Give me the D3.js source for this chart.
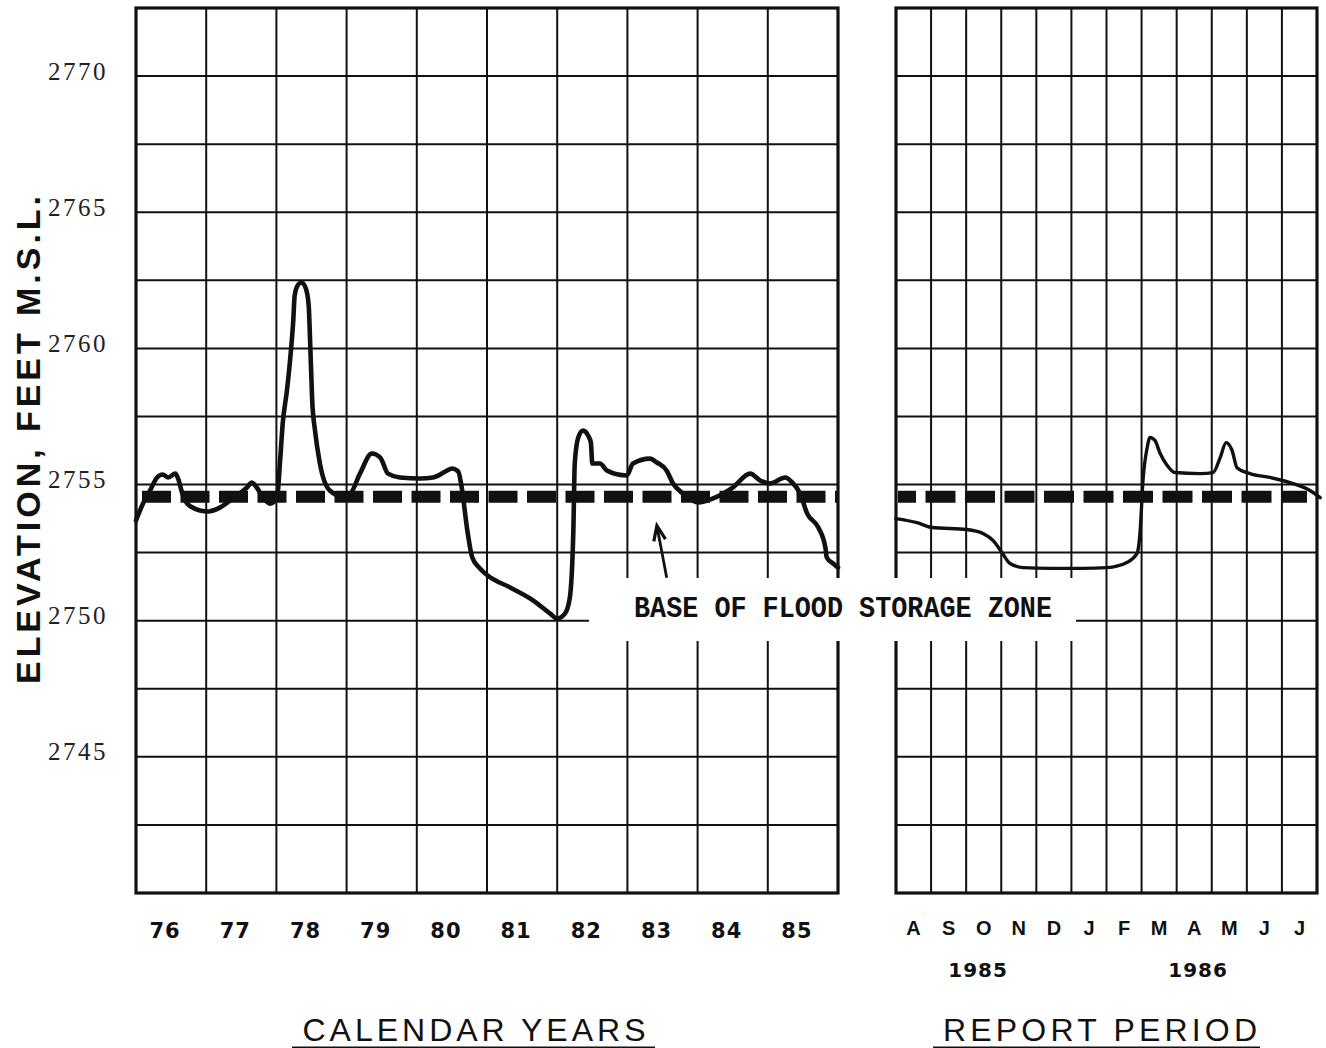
<!DOCTYPE html>
<html>
<head>
<meta charset="utf-8">
<script src="https://cdn.jsdelivr.net/npm/d3@7/dist/d3.min.js"></script>
<style>
  body { margin: 0; background: #fff; }
  svg { display: block; }
</style>
</head>
<body>
<svg id="chart" width="1326" height="1048"></svg>
<script>
// ---- data ----
const yearLabels = ["76", "77", "78", "79", "80", "81", "82", "83", "84", "85"];
const monthLabels = ["A", "S", "O", "N", "D", "J", "F", "M", "A", "M", "J", "J"];
const reportYears = ["1985", "1986"];
const reportYearAt = [2.34, 8.61];           // month index under which each year label sits
const elevTicks = [2745, 2750, 2755, 2760, 2765, 2770];
const floodBase = 2754.55;                   // base of flood storage zone, ft

// calendar-year history (decimal year, elevation ft)
const histYear = [1976.00, 1976.10, 1976.20, 1976.30, 1976.38, 1976.46, 1976.56, 1976.60, 1976.66, 1976.73,
  1976.91, 1977.03, 1977.20, 1977.38, 1977.58, 1977.65, 1977.72, 1977.81, 1977.91, 1978.01,
  1978.05, 1978.09, 1978.15, 1978.19, 1978.24, 1978.26, 1978.31, 1978.36, 1978.42, 1978.46,
  1978.48, 1978.51, 1978.55, 1978.62, 1978.76, 1978.91, 1979.05, 1979.19, 1979.36, 1979.48,
  1979.59, 1979.76, 1980.05, 1980.23, 1980.43, 1980.50, 1980.59, 1980.64, 1980.72, 1980.79,
  1980.90, 1981.01, 1981.33, 1981.66, 1981.90, 1982.00, 1982.11, 1982.18, 1982.23, 1982.25,
  1982.30, 1982.37, 1982.44, 1982.48, 1982.50, 1982.61, 1982.71, 1982.99, 1983.08, 1983.32,
  1983.42, 1983.56, 1983.65, 1983.79, 1984.01, 1984.22, 1984.50, 1984.75, 1984.89, 1985.03,
  1985.25, 1985.35, 1985.46, 1985.56, 1985.72, 1985.82, 1985.84, 1985.93, 1986.00];
const histElev = [2753.68, 2754.30, 2754.78, 2755.26, 2755.37, 2755.26, 2755.40, 2755.22, 2754.67, 2754.30,
  2754.05, 2754.01, 2754.16, 2754.49, 2754.89, 2755.07, 2754.89, 2754.52, 2754.30, 2754.52,
  2755.77, 2757.24, 2758.45, 2759.44, 2761.02, 2761.94, 2762.34, 2762.42, 2762.20, 2761.57,
  2760.29, 2758.08, 2756.98, 2755.77, 2754.78, 2754.60, 2754.67, 2755.40, 2756.14, 2755.99,
  2755.40, 2755.26, 2755.22, 2755.26, 2755.51, 2755.59, 2755.48, 2754.89, 2753.31, 2752.32,
  2751.92, 2751.66, 2751.22, 2750.74, 2750.26, 2750.08, 2750.26, 2750.85, 2753.31, 2755.77,
  2756.73, 2756.98, 2756.80, 2756.54, 2755.77, 2755.77, 2755.51, 2755.33, 2755.77, 2755.95,
  2755.81, 2755.51, 2755.04, 2754.67, 2754.34, 2754.49, 2754.89, 2755.40, 2755.15, 2755.04,
  2755.26, 2755.07, 2754.67, 2753.94, 2753.42, 2752.69, 2752.32, 2752.10, 2751.95];

// report period, Aug 1985 - Jul 1986 (month index from 1 Aug 1985, elevation ft)
const rptMonth = [0.00, 0.60, 1.03, 2.02, 2.48, 2.77, 3.02, 3.25, 3.62, 4.39, 5.33, 6.01, 6.58, 6.87, 6.96,
  7.04, 7.16, 7.24, 7.38, 7.53, 7.73, 7.95, 8.67, 9.04, 9.24, 9.41, 9.58, 9.72, 10.09, 10.66,
  11.23, 11.80, 12.09];
const rptElev = [2753.75, 2753.60, 2753.42, 2753.35, 2753.20, 2752.94, 2752.50, 2752.10, 2751.95, 2751.92,
  2751.92, 2751.95, 2752.14, 2752.47, 2753.31, 2755.15, 2756.36, 2756.73, 2756.62, 2756.14,
  2755.70, 2755.44, 2755.40, 2755.44, 2755.99, 2756.54, 2756.25, 2755.62, 2755.40, 2755.26,
  2755.07, 2754.78, 2754.52];

// ---- layout ----
const svg = d3.select("#chart");
const INK = "#111";
const plotTop = 8, plotBottom = 893;
const left1 = 136, right1 = 838, left2 = 896, right2 = 1317;

const y = d3.scaleLinear().domain([2740, 2772.5]).range([plotBottom, plotTop]);
const xHist = d3.scaleLinear().domain([1976, 1986]).range([left1, right1]);
const xRpt = d3.scaleLinear().domain([0, 12]).range([left2, right2]);

const gridLevels = d3.range(2740, 2772.5 + 0.01, 2.5);

// grid for one panel
function drawGrid(g, xs, xTicks, x0, x1) {
  g.selectAll("line.h").data(gridLevels.slice(1, -1)).join("line")
    .attr("class", "h")
    .attr("x1", x0).attr("x2", x1)
    .attr("y1", d => y(d)).attr("y2", d => y(d))
    .attr("stroke", INK).attr("stroke-width", 2);
  g.selectAll("line.v").data(xTicks.slice(1, -1)).join("line")
    .attr("class", "v")
    .attr("x1", d => xs(d)).attr("x2", d => xs(d))
    .attr("y1", plotTop).attr("y2", plotBottom)
    .attr("stroke", INK).attr("stroke-width", 2);
  g.append("rect")
    .attr("x", x0).attr("y", plotTop)
    .attr("width", x1 - x0).attr("height", plotBottom - plotTop)
    .attr("fill", "none").attr("stroke", INK).attr("stroke-width", 3.2);
}

const gHist = svg.append("g");
drawGrid(gHist, xHist, d3.range(1976, 1987), left1, right1);
const gRpt = svg.append("g");
drawGrid(gRpt, xRpt, d3.range(0, 13), left2, right2);

// blank band that carries the flood-zone label
svg.append("rect")
  .attr("x", 589).attr("y", 578).attr("width", 487).attr("height", 63)
  .attr("fill", "#fff");

// base of flood storage zone (heavy dashes)
svg.append("line")
  .attr("x1", left1 + 2).attr("x2", right1)
  .attr("y1", y(floodBase)).attr("y2", y(floodBase))
  .attr("stroke", INK).attr("stroke-width", 12)
  .attr("stroke-dasharray", "29,9.5").attr("stroke-dashoffset", -4);
svg.append("line")
  .attr("x1", left2 + 2).attr("x2", right2 - 10)
  .attr("y1", y(floodBase)).attr("y2", y(floodBase))
  .attr("stroke", INK).attr("stroke-width", 12)
  .attr("stroke-dasharray", "30,9.5").attr("stroke-dashoffset", 12);

// elevation traces
const histLine = d3.line()
  .x((d, i) => xHist(histYear[i]))
  .y(d => y(d))
  .curve(d3.curveMonotoneX);
svg.append("path")
  .attr("d", histLine(histElev))
  .attr("fill", "none").attr("stroke", INK)
  .attr("stroke-width", 4.6).attr("stroke-linejoin", "round").attr("stroke-linecap", "round");

const rptLine = d3.line()
  .x((d, i) => xRpt(rptMonth[i]))
  .y(d => y(d))
  .curve(d3.curveMonotoneX);
svg.append("path")
  .attr("d", rptLine(rptElev))
  .attr("fill", "none").attr("stroke", INK)
  .attr("stroke-width", 3.4).attr("stroke-linejoin", "round").attr("stroke-linecap", "round");

// label for the dashed line, with its pointer
svg.append("text")
  .attr("x", 634).attr("y", 617)
  .attr("textLength", 418).attr("lengthAdjust", "spacingAndGlyphs")
  .style("font-family", "'Liberation Mono', 'DejaVu Sans Mono', monospace")
  .style("font-weight", "bold").style("font-size", "29px")
  .attr("fill", INK)
  .text("BASE OF FLOOD STORAGE ZONE");

const tail = [xHist(1983.56), y(2751.58)];
const tip = [xHist(1983.42), y(2753.49)];
svg.append("line")
  .attr("x1", tail[0]).attr("y1", tail[1]).attr("x2", tip[0]).attr("y2", tip[1])
  .attr("stroke", INK).attr("stroke-width", 2.8);
{
  const ang = Math.atan2(tip[1] - tail[1], tip[0] - tail[0]);
  const len = 16, spread = 0.38;
  const w1 = [tip[0] - len * Math.cos(ang - spread), tip[1] - len * Math.sin(ang - spread)];
  const w2 = [tip[0] - len * Math.cos(ang + spread), tip[1] - len * Math.sin(ang + spread)];
  svg.append("path")
    .attr("d", `M${w1[0]},${w1[1]}L${tip[0]},${tip[1]}L${w2[0]},${w2[1]}`)
    .attr("fill", "none").attr("stroke", INK).attr("stroke-width", 3.2)
    .attr("stroke-linejoin", "miter");
}

// elevation tick labels
const yAxis = d3.axisLeft(y).tickValues(elevTicks).tickSize(0).tickPadding(0).tickFormat(d3.format("d"));
const gy = svg.append("g").attr("transform", "translate(108,0)").call(yAxis);
gy.select(".domain").remove();
gy.selectAll("text")
  .attr("x", 0).attr("dy", 3)
  .style("font-family", "'Liberation Serif', 'DejaVu Serif', serif")
  .style("font-size", "25px").style("letter-spacing", "2.5px")
  .attr("fill", "#222");

// calendar year labels
const xBand = d3.scaleBand().domain(yearLabels).range([left1, right1]);
const gx = svg.append("g").attr("transform", `translate(-6,${938})`)
  .call(d3.axisBottom(xBand).tickSize(0).tickPadding(0));
gx.select(".domain").remove();
gx.selectAll("text")
  .attr("y", 0).attr("dy", 0)
  .style("font-family", "'DejaVu Sans', 'Liberation Sans', sans-serif")
  .style("font-weight", "bold").style("font-size", "21px").style("letter-spacing", "1px")
  .attr("fill", INK);

// month labels
const mBand = d3.scaleBand().domain(d3.range(12)).range([left2, right2]);
svg.append("g").selectAll("text").data(monthLabels).join("text")
  .attr("x", (d, i) => mBand(i) + mBand.bandwidth() / 2)
  .attr("y", 935)
  .attr("text-anchor", "middle")
  .style("font-family", "'Liberation Sans', Arial, sans-serif")
  .style("font-weight", "bold").style("font-size", "20px")
  .attr("fill", INK)
  .text(d => d);

svg.append("g").selectAll("text").data(reportYears).join("text")
  .attr("x", (d, i) => xRpt(reportYearAt[i]))
  .attr("y", 977)
  .attr("text-anchor", "middle")
  .style("font-family", "'DejaVu Sans', 'Liberation Sans', sans-serif")
  .style("font-weight", "bold").style("font-size", "20px").style("letter-spacing", "1px")
  .attr("fill", INK)
  .text(d => d);

// panel titles, underlined
function panelTitle(text, cx, w, uX0, uX1) {
  svg.append("text")
    .attr("x", cx - w / 2).attr("y", 1041)
    .attr("textLength", w).attr("lengthAdjust", "spacing")
    .style("font-family", "'Liberation Sans', Arial, sans-serif")
    .style("font-size", "32px")
    .attr("fill", INK)
    .text(text);
  svg.append("line")
    .attr("x1", uX0).attr("x2", uX1).attr("y1", 1047.5).attr("y2", 1047.5)
    .attr("stroke", INK).attr("stroke-width", 2.2);
}
panelTitle("CALENDAR YEARS", 474, 343, 292, 655);
panelTitle("REPORT PERIOD", 1100, 314, 933, 1260);

// vertical axis title
svg.append("text")
  .attr("transform", "translate(40,440) rotate(-90)")
  .attr("text-anchor", "middle")
  .attr("textLength", 488).attr("lengthAdjust", "spacing")
  .style("font-family", "'Liberation Sans', Arial, sans-serif")
  .style("font-weight", "bold").style("font-size", "34px")
  .attr("fill", INK)
  .text("ELEVATION, FEET M.S.L.");
</script>
</body>
</html>
